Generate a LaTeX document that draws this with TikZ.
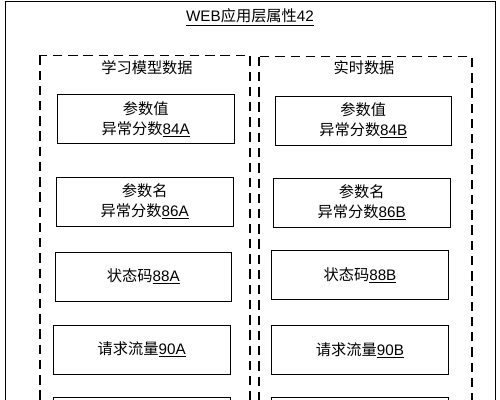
\documentclass[tikz,border=0pt]{standalone}
\usepackage{fontspec}
\setmainfont{Liberation Sans}
\newfontfamily\cjk{Noto Sans CJK SC}
\newcommand{\refno}[1]{\underline{#1}}
\begin{document}
\begin{tikzpicture}[
  every node/.style={font=\fontsize{13}{17}\selectfont},
  field/.style={draw,rectangle,line width=0.8pt,minimum width=5.3cm,minimum height=1.47cm,align=center},
  group/.style={draw,line width=1pt,dash pattern=on 8pt off 5pt}]
  \clip (0,0) rectangle (15,-12);
  % outer frame and the two data groups
  \draw[line width=0.8pt] (0.15,-0.05) rectangle (14.85,-12.6);
  \draw[group] (1.2,-1.66) rectangle (7.5,-12.6);
  \draw[group] (7.77,-1.7) rectangle (14.16,-12.6);
  \node (title) at (7.5,-0.52) {\refno{WEB{\cjk 应用层属性}42}};
  \node (learn) at (4.41,-2.04) {\cjk 学习模型数据};
  \node (live) at (10.92,-2.04) {\cjk 实时数据};
  % learning model data
  \node[field] (valA) at (4.37,-3.57) {{\cjk 参数值}\\{\cjk 异常分数}\refno{84A}};
  \node[field] (nameA) at (4.34,-6.05) {{\cjk 参数名}\\{\cjk 异常分数}\refno{86A}};
  \node[field] (codeA) at (4.3,-8.3) {{\cjk 状态码}\refno{88A}};
  \node[field] (flowA) at (4.25,-10.49) {{\cjk 请求流量}\refno{90A}};
  \node[field] (nextA) at (4.25,-12.65) {};
  % real time data
  \node[field] (valB) at (10.9,-3.62) {{\cjk 参数值}\\{\cjk 异常分数}\refno{84B}};
  \node[field] (nameB) at (10.85,-6.08) {{\cjk 参数名}\\{\cjk 异常分数}\refno{86B}};
  \node[field] (codeB) at (10.8,-8.26) {{\cjk 状态码}\refno{88B}};
  \node[field] (flowB) at (10.8,-10.51) {{\cjk 请求流量}\refno{90B}};
  \node[field] (nextB) at (10.8,-12.65) {};
\end{tikzpicture}
\end{document}
